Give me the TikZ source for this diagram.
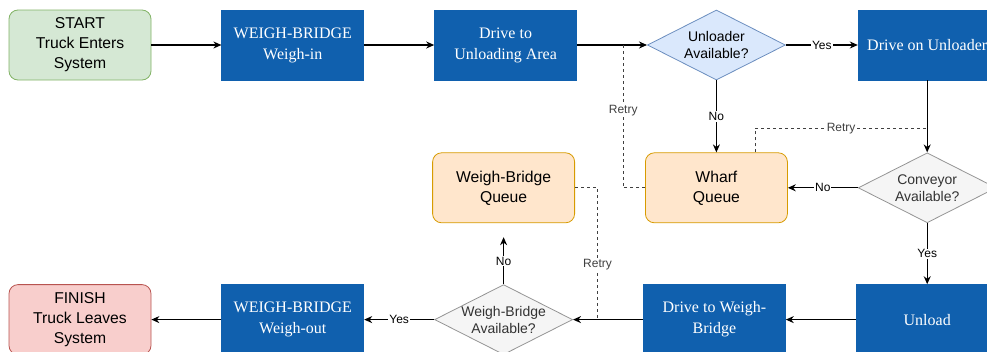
\documentclass[tikz,border=0pt]{standalone}
\usepackage{fontspec}
\setmainfont{Liberation Serif}
\setsansfont{Liberation Sans}
\usetikzlibrary{positioning, arrows.meta, shapes.geometric, calc}

\definecolor{stepblue}{HTML}{1060AE}
\definecolor{startfill}{HTML}{D5E8D4}
\definecolor{startline}{HTML}{82B366}
\definecolor{endfill}{HTML}{F8CECC}
\definecolor{endline}{HTML}{B85450}
\definecolor{queuefill}{HTML}{FFE6CC}
\definecolor{queueline}{HTML}{D79B00}
\definecolor{askfill}{HTML}{DAE8FC}
\definecolor{askline}{HTML}{6C8EBF}
\definecolor{greyfill}{HTML}{F5F5F5}
\definecolor{greyline}{HTML}{666666}

\tikzset{
  boxbase/.style={rectangle, minimum width=142pt, minimum height=70pt, inner sep=2pt, align=center, line width=0.8pt},
  bluebox/.style={boxbase, fill=stepblue, draw=stepblue, text=white, font=\fontsize{16}{21}\selectfont},
  softbox/.style={boxbase, rounded corners=9pt, font=\sffamily\fontsize{15.7}{20}\selectfont},
  startbox/.style={softbox, fill=startfill, draw=startline},
  finishbox/.style={softbox, fill=endfill, draw=endline},
  queuebox/.style={softbox, fill=queuefill, draw=queueline},
  ask/.style={diamond, aspect=2, minimum width=138pt, minimum height=70pt, inner sep=-3pt, align=center, line width=0.8pt, font=\sffamily\fontsize{14}{17}\selectfont},
  askblue/.style={ask, fill=askfill, draw=askline},
  askgrey/.style={ask, fill=greyfill, draw=greyline!70, text=black!80},
  lbl/.style={fill=white, inner sep=1pt, font=\sffamily\fontsize{12}{14}\selectfont},
  flow/.style={-{Stealth[length=8pt, width=7pt]}, line width=1.1pt},
  retry/.style={line width=0.9pt, dash pattern=on 3pt off 3pt, black!75},
}

\begin{document}
\begin{tikzpicture}[x=1pt, y=1pt]
  \useasboundingbox (0,0) rectangle (987,-351);
  % top row
  \node[startbox] (start) at (80,-45) {START\\Truck Enters\\System};
  \node[bluebox, right=70pt of start] (wbin) {WEIGH-BRIDGE\\Weigh-in};
  \node[bluebox, right=70pt of wbin] (driveua) {Drive to\\Unloading Area};
  \node[askblue, right=70pt of driveua] (unlavail) {Unloader\\Available?};
  \node[bluebox, minimum width=138pt, right=72pt of unlavail] (driveon) {Drive on Unloader};
  % middle row
  \node[queuebox, below=72pt of unlavail] (wharf) {Wharf\\Queue};
  \node[queuebox, left=70pt of wharf] (wbqueue) {Weigh-Bridge\\Queue};
  \node[askgrey, below=72pt of driveon] (convavail) {Conveyor\\Available?};
  % bottom row
  \node[bluebox, below=61pt of convavail] (unload) {Unload};
  \node[bluebox, left=70pt of unload] (drivewb) {Drive to Weigh-\\Bridge};
  \node[askgrey, left=70pt of drivewb] (wbavail) {Weigh-Bridge\\Available?};
  \node[bluebox, left=70pt of wbavail] (wbout) {WEIGH-BRIDGE\\Weigh-out};
  \node[finishbox, left=70pt of wbout] (finish) {FINISH\\Truck Leaves\\System};

  % retry joins
  \coordinate (j1) at ($(driveua.east)!0.66!(unlavail.west)$);
  \coordinate (j2) at ($(driveon.south)!0.67!(convavail.north)$);
  \coordinate (j3) at ($(wbavail.east)!0.35!(drivewb.west)$);
  \coordinate (wtop) at ($(wharf.north west)!0.77!(wharf.north east)$);

  \draw[flow] (start) -- (wbin);
  \draw[flow] (wbin) -- (driveua);
  \draw[flow] (driveua) -- (unlavail);
  \draw[flow] (unlavail) -- node[lbl] {Yes} (driveon);
  \draw[flow] (unlavail) -- node[lbl] {No} (wharf);
  \draw[flow] (driveon) -- (convavail);
  \draw[flow] (convavail) -- node[lbl] {No} (wharf);
  \draw[flow] (convavail) -- node[lbl] {Yes} (unload);
  \draw[flow] (unload) -- (drivewb);
  \draw[flow] (drivewb) -- (wbavail);
  \draw[flow] (wbavail) -- node[lbl] {Yes} (wbout);
  \draw[flow] (wbout) -- (finish);
  \draw[flow, shorten >=14pt] (wbavail) -- node[lbl, pos=0.38] {No} (wbqueue);

  \draw[retry] (wharf.west) -| node[lbl, pos=0.77] {Retry} (j1);
  \draw[retry] (wtop) |- node[lbl, pos=0.75] {Retry} (j2);
  \draw[retry] (wbqueue.east) -| node[lbl, pos=0.79] {Retry} (j3);
\end{tikzpicture}
\end{document}
